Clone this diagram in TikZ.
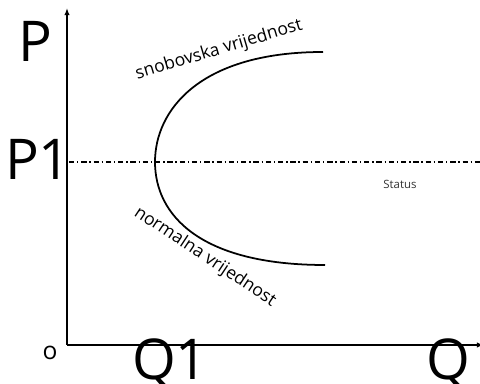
\documentclass[tikz,border=0pt]{standalone}
\usepackage{fontspec}
\setmainfont{Open Sans}
\usetikzlibrary{arrows.meta}
\begin{document}
\begin{tikzpicture}[x=0.02cm,y=-0.02cm]
  \path[use as bounding box] (0,0) rectangle (480,384);

  \tikzset{big/.style={anchor=base,inner sep=0pt,font=\fontsize{32}{32}\selectfont},
    curvelabel/.style={inner sep=0pt,font=\fontsize{10}{10}\selectfont},
    axis/.style={line width=.75pt,-{Latex[length=4pt,width=3pt]}}}

  % Axes and the price line.
  \draw[axis] (67,345) -- (67,8);
  \draw[axis] (67,345) -- (484,345);
  \draw[line width=.8pt,dash pattern=on 3pt off 1.6pt on .8pt off 1.6pt] (69,162) -- (480,162);

  % Demand curve bending back at P1.
  \draw[line width=1pt] (323,52) .. controls (200,52) and (155,110) .. (155,162)
    .. controls (155,215) and (200,265) .. (325,265);

  \node[big] (p) at (35,62) {P};
  \node[big] (p1) at (38,180) {P1};
  \node[big] (q1) at (170,380) {Q1};
  \node[big] (q) at (448,380) {Q};
  \node[anchor=base,inner sep=0pt,font=\fontsize{14}{14}\selectfont] (o) at (50,360) {o};

  \node[curvelabel,rotate=16.6] (snob) at (219,50) {snobovska vrijednost};
  \node[curvelabel,rotate=-33.5] (norm) at (205,257) {normalna vrijednost};
  \node[inner sep=0pt,font=\fontsize{6.5}{6.5}\selectfont,text=black!80] (status) at (400,184) {Status};
\end{tikzpicture}
\end{document}
